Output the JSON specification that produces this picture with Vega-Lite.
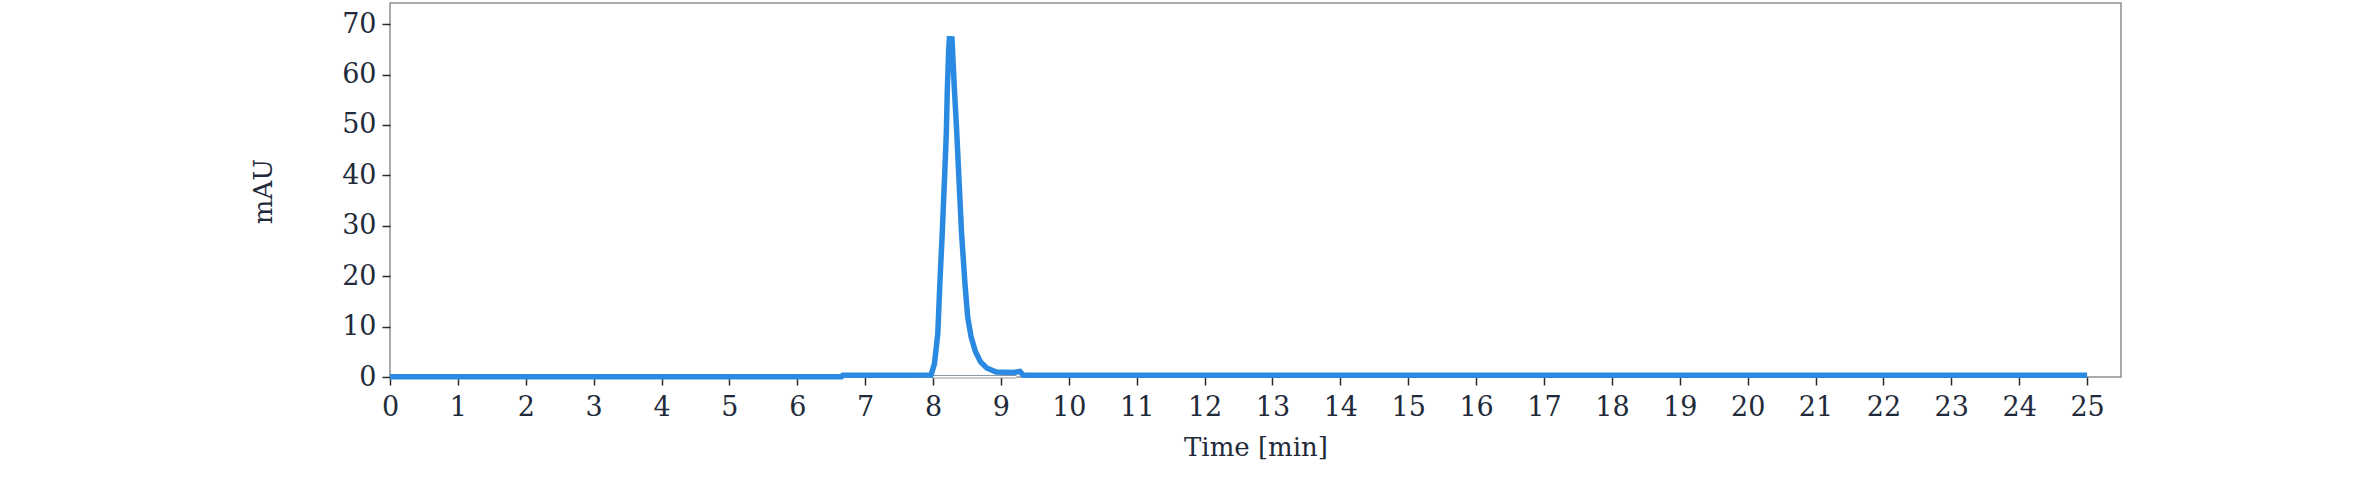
{
  "$schema": "https://vega.github.io/schema/vega-lite/v6.json",
  "autosize": {"type": "none"},
  "width": 1731,
  "height": 374,
  "padding": {"left": 390, "top": 3, "right": 250, "bottom": 103},
  "background": "#ffffff",
  "config": {
    "view": {"stroke": "#8f8f8f", "strokeWidth": 1.5, "fill": "#ffffff"},
    "axis": {
      "labelFont": "DejaVu Serif",
      "titleFont": "DejaVu Serif",
      "labelFontSize": 27,
      "titleFontSize": 26,
      "labelColor": "#1f2b3a",
      "titleColor": "#1f2b3a",
      "titleFontWeight": "normal",
      "tickColor": "#2a2a2a",
      "tickWidth": 1.5,
      "tickSize": 8,
      "domain": false,
      "grid": false
    }
  },
  "datasets": {
    "signal": [
      {"t": 0.0, "v": 0.05},
      {"t": 3.0, "v": 0.05},
      {"t": 6.65, "v": 0.05},
      {"t": 6.67, "v": 0.35},
      {"t": 7.5, "v": 0.35},
      {"t": 7.97, "v": 0.4},
      {"t": 8.02, "v": 2.6},
      {"t": 8.07, "v": 8.6},
      {"t": 8.1, "v": 18.5},
      {"t": 8.135, "v": 28.5},
      {"t": 8.17, "v": 39.7},
      {"t": 8.195, "v": 48.3},
      {"t": 8.21, "v": 56.9},
      {"t": 8.23, "v": 64.9},
      {"t": 8.243, "v": 67.6},
      {"t": 8.26, "v": 63.5},
      {"t": 8.277, "v": 67.6},
      {"t": 8.295, "v": 62.5},
      {"t": 8.315, "v": 56.9},
      {"t": 8.35, "v": 48.3},
      {"t": 8.38, "v": 39.7},
      {"t": 8.42, "v": 28.5},
      {"t": 8.47, "v": 18.5},
      {"t": 8.51, "v": 11.9},
      {"t": 8.56, "v": 8.0},
      {"t": 8.625, "v": 5.0},
      {"t": 8.7, "v": 3.0},
      {"t": 8.79, "v": 1.8},
      {"t": 8.93, "v": 1.0},
      {"t": 9.18, "v": 0.9},
      {"t": 9.28, "v": 1.1},
      {"t": 9.33, "v": 0.35},
      {"t": 12.0, "v": 0.35},
      {"t": 16.0, "v": 0.35},
      {"t": 20.0, "v": 0.35},
      {"t": 25.0, "v": 0.35}
    ],
    "marker": [
      {"t": 7.98, "v": 0.05},
      {"t": 9.23, "v": 0.05}
    ]
  },
  "layer": [
    {
      "data": {"name": "marker"},
      "mark": {"type": "line", "color": "#8c9aa6", "strokeWidth": 3.5},
      "encoding": {
        "x": {"field": "t", "type": "quantitative"},
        "y": {"field": "v", "type": "quantitative"}
      }
    },
    {
      "data": {"name": "marker"},
      "mark": {"type": "line", "color": "#ffffff", "strokeWidth": 1.5},
      "encoding": {
        "x": {"field": "t", "type": "quantitative"},
        "y": {"field": "v", "type": "quantitative"}
      }
    },
    {
      "data": {"name": "signal"},
      "mark": {"type": "line", "color": "#2a8ae2", "strokeWidth": 5.5, "strokeJoin": "miter", "strokeMiterLimit": 2},
      "encoding": {
        "x": {
          "field": "t",
          "type": "quantitative",
          "scale": {"domain": [0, 25.5], "nice": false, "zero": false},
          "axis": {
            "title": "Time [min]",
            "format": "d",
            "values": [0,1,2,3,4,5,6,7,8,9,10,11,12,13,14,15,16,17,18,19,20,21,22,23,24,25],
            "labelPadding": 9,
            "labelFlush": false,
            "labelOverlap": false,
            "titleY": 78,
            "titleBaseline": "alphabetic"
          }
        },
        "y": {
          "field": "v",
          "type": "quantitative",
          "scale": {"domain": [0, 74.2], "nice": false},
          "axis": {
            "title": "mAU",
            "format": "d",
            "values": [0,10,20,30,40,50,60,70],
            "labelPadding": 6,
            "labelFlush": false,
            "titleX": -119,
            "titleY": 188,
            "titleAngle": -90,
            "titleAlign": "center",
            "titleBaseline": "alphabetic"
          }
        }
      }
    }
  ]
}
